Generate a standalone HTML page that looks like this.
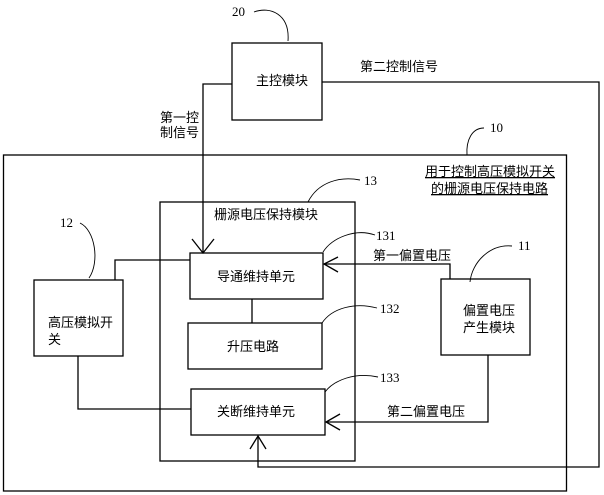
<!DOCTYPE html>
<html><head><meta charset="utf-8"><style>
html,body{margin:0;padding:0;background:#fff;}
svg{display:block;}
text{font-family:"Liberation Sans","Noto Sans CJK SC",sans-serif;font-size:13px;fill:#000;}
.n{font-family:"Liberation Serif",serif;font-size:13px;}
</style></head><body>
<svg width="604" height="495" viewBox="0 0 604 495" xmlns="http://www.w3.org/2000/svg">
<g fill="none" stroke="#000" stroke-width="1.3">
<!-- boxes -->
<rect x="232" y="43" width="90" height="77"/>
<rect x="3.5" y="155" width="563" height="336"/>
<rect x="160" y="202" width="195" height="259"/>
<rect x="190" y="253" width="133" height="46"/>
<rect x="188" y="323" width="134" height="46"/>
<rect x="191" y="389" width="134" height="46"/>
<rect x="34" y="280" width="89" height="76"/>
<rect x="441" y="279" width="89" height="76"/>
<!-- connectors -->
<polyline points="322,82 599,82 599,467 258,467 258,436"/>
<polyline points="232,84 203,84 203,253"/>
<polyline points="115,280 115,260 190,260"/>
<polyline points="78,356 78,409 191,409"/>
<line x1="252" y1="299" x2="252" y2="323"/>
<polyline points="450,279 450,264 324,264"/>
<polyline points="488,355 488,422 326,422"/>
<!-- arrowheads -->
<polyline points="192,239 203,253 214,239"/>
<polyline points="338,257 324,264 338,272"/>
<polyline points="340,414 326,422 340,430"/>
<polyline points="250,449 258,436 266,449"/>
</g>
<g fill="none" stroke="#000" stroke-width="0.9">
<!-- leader curves -->
<path d="M254,12 C270,6 290,14 288,41"/>
<path d="M484,128 C472,128 466,140 467,155"/>
<path d="M308,202 C318,182 340,176 360,180"/>
<path d="M80,223 C95,230 100,262 89,278"/>
<path d="M323,252 C332,238 355,228 375,235"/>
<path d="M322,323 C332,308 355,302 377,308"/>
<path d="M325,392 C334,380 355,372 378,377"/>
<path d="M470,282 C472,262 490,244 512,246"/>
</g>
<!-- labels -->
<text class="n" x="232" y="16">20</text>
<text class="n" x="490" y="132">10</text>
<text class="n" x="364" y="185">13</text>
<text class="n" x="60" y="227">12</text>
<text class="n" x="376" y="240">131</text>
<text class="n" x="518" y="250">11</text>
<text class="n" x="380" y="313">132</text>
<text class="n" x="380" y="382">133</text>
<text x="256" y="85">主控模块</text>
<text x="360" y="71">第二控制信号</text>
<text x="160" y="122">第一控</text>
<text x="160" y="137">制信号</text>
<text x="425" y="176" style="text-decoration:underline">用于控制高压模拟开关</text>
<text x="431" y="193" style="text-decoration:underline">的栅源电压保持电路</text>
<text x="214" y="219">栅源电压保持模块</text>
<text x="217" y="281">导通维持单元</text>
<text x="227" y="351">升压电路</text>
<text x="217" y="416">关断维持单元</text>
<text x="48" y="327">高压模拟开</text>
<text x="48" y="344">关</text>
<text x="463" y="315">偏置电压</text>
<text x="463" y="332">产生模块</text>
<text x="373" y="260">第一偏置电压</text>
<text x="387" y="416">第二偏置电压</text>
</svg>
</body></html>
